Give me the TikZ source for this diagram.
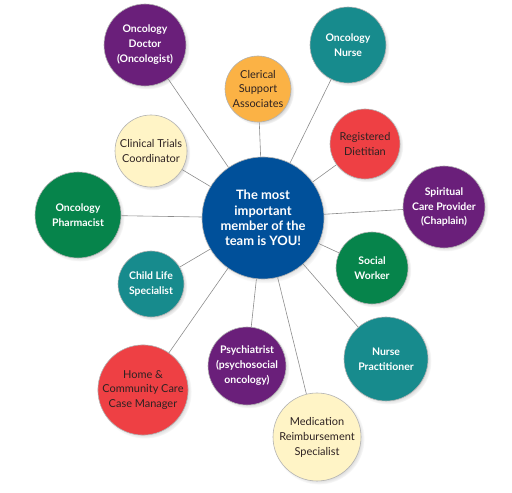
\documentclass[tikz,border=0pt]{standalone}
\usepackage{fontspec}
\setmainfont{Lato}
\usepackage{xcolor}
\usetikzlibrary{shadows, backgrounds}

\definecolor{teampurple}{HTML}{6A1F7A}
\definecolor{teamteal}{HTML}{178B8D}
\definecolor{teamgreen}{HTML}{06844B}
\definecolor{teamred}{HTML}{EE4044}
\definecolor{teamorange}{HTML}{FBB245}
\definecolor{teamcream}{HTML}{FFF4C6}
\definecolor{teamblue}{HTML}{00509A}
\definecolor{darktext}{HTML}{2E2222}

\begin{document}
\begin{tikzpicture}[
    x=1bp, y=1bp,
    member/.style={circle, draw=black!30, line width=0.6pt, inner sep=0pt, align=center,
        circular drop shadow={shadow scale=1.04, shadow xshift=1.8pt, shadow yshift=-1.8pt, opacity=0.4}},
    light/.style={member, text=darktext, font=\fontsize{11}{15}\selectfont},
    dark/.style={member, text=white, font=\fontsize{10.5}{15}\selectfont\bfseries},
    link/.style={draw=black!45, line width=0.6pt}
]
    \useasboundingbox (0,0) rectangle (512,493);

    % Centre of the team
    \node[member, fill=teamblue, text=white, minimum size=122bp, font=\fontsize{13}{15.4}\selectfont\bfseries] (YOU) at (263,275) {The most\\important\\member of the\\team is YOU!};

    % Team members, clockwise from the top left
    \node[dark, fill=teampurple, minimum size=82bp] (DOC) at (145,448) {Oncology\\Doctor\\(Oncologist)};
    \node[light, fill=teamorange, minimum size=66bp] (CLER) at (258,404) {Clerical\\Support\\Associates};
    \node[dark, fill=teamteal, minimum size=76bp] (ONURSE) at (348,448) {Oncology\\Nurse};
    \node[light, fill=teamred, minimum size=70bp] (DIET) at (365,349) {Registered\\Dietitian};
    \node[dark, fill=teampurple, minimum size=82bp] (CHAP) at (444,286) {Spiritual\\Care Provider\\(Chaplain)};
    \node[dark, fill=teamgreen, minimum size=72bp] (SOC) at (372,225) {Social\\Worker};
    \node[dark, fill=teamteal, minimum size=84bp] (NP) at (386,134) {Nurse\\Practitioner};
    \node[light, fill=teamcream, minimum size=88bp] (MED) at (317,56) {Medication\\Reimbursement\\Specialist};
    \node[dark, fill=teampurple, minimum size=78bp] (PSY) at (247,127) {Psychiatrist\\(psychosocial\\oncology)};
    \node[light, fill=teamred, minimum size=86bp] (HOME) at (143,103) {Home \&\\Community Care\\Case Manager};
    \node[dark, fill=teamteal, minimum size=66bp] (CHILD) at (151,209) {Child Life\\Specialist};
    \node[dark, fill=teamgreen, minimum size=86bp] (PHARM) at (78,278) {Oncology\\Pharmacist};
    \node[light, fill=teamcream, minimum size=72bp] (TRIAL) at (151,342) {Clinical Trials\\Coordinator};

    % Spokes
    \begin{scope}[on background layer]
        \draw[link] (YOU) -- (DOC);
        \draw[link] (YOU) -- (CLER);
        \draw[link] (YOU) -- (ONURSE);
        \draw[link] (YOU) -- (DIET);
        \draw[link] (YOU) -- (CHAP);
        \draw[link] (YOU) -- (SOC);
        \draw[link] (YOU) -- (NP);
        \draw[link] (YOU) -- (MED);
        \draw[link] (YOU) -- (PSY);
        \draw[link] (YOU) -- (HOME);
        \draw[link] (YOU) -- (CHILD);
        \draw[link] (YOU) -- (PHARM);
        \draw[link] (YOU) -- (TRIAL);
    \end{scope}
\end{tikzpicture}
\end{document}
